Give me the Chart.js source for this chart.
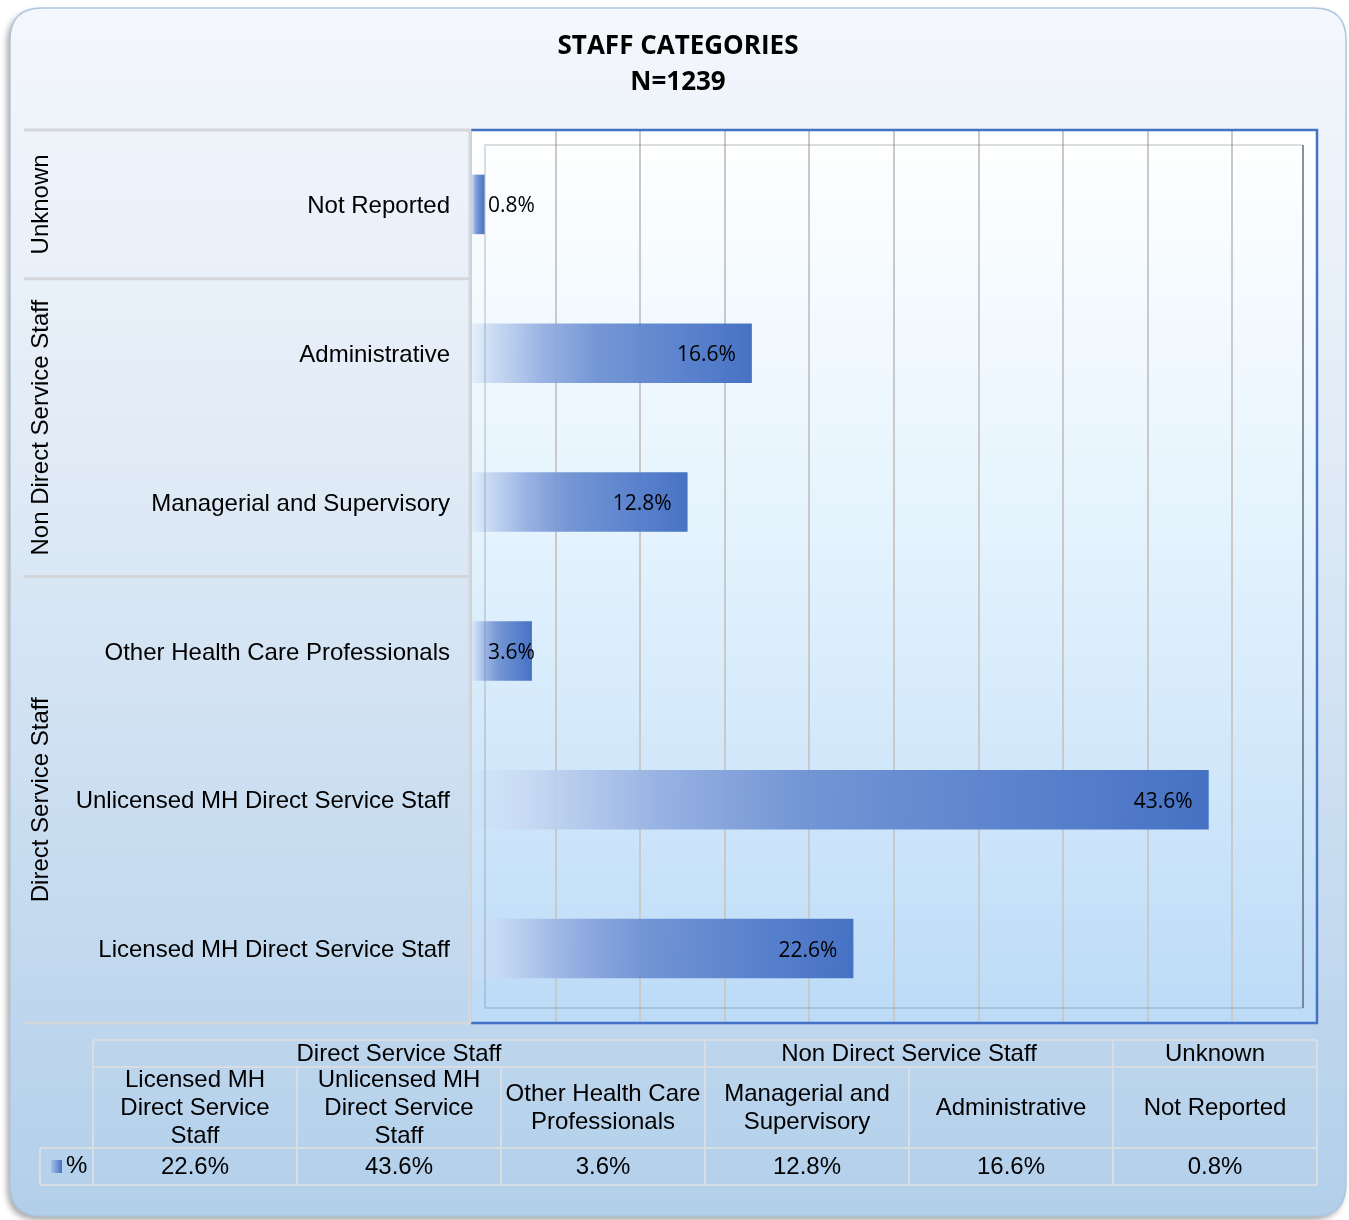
<!DOCTYPE html>
<html lang="en">
<head>
  <meta charset="UTF-8">
  <title>Staff Categories</title>
  <script src="https://cdn.jsdelivr.net/npm/chart.js"></script>
  <style>
    body {
      margin: 0;
      padding: 0;
      background: #ffffff;
    }
    #wrap {
      width: 1349px;
      height: 1220px;
    }
  </style>
</head>
<body>
  <div id="wrap">
    <canvas id="staffChart" width="1349" height="1220"></canvas>
  </div>

  <script>
    // data, in table order (left to right); the bars run bottom to top
    const categories = [
      'Licensed MH Direct Service Staff',
      'Unlicensed MH Direct Service Staff',
      'Other Health Care Professionals',
      'Managerial and Supervisory',
      'Administrative',
      'Not Reported'
    ];
    const tableHeaders = [
      ['Licensed MH', 'Direct Service', 'Staff'],
      ['Unlicensed MH', 'Direct Service', 'Staff'],
      ['Other Health Care', 'Professionals'],
      ['Managerial and', 'Supervisory'],
      ['Administrative'],
      ['Not Reported']
    ];
    const groups = ['Direct Service Staff', 'Non Direct Service Staff', 'Unknown'];
    const groupSizes = [3, 2, 1];
    const percents = [22.6, 43.6, 3.6, 12.8, 16.6, 0.8];
    const seriesName = '%';
    const xMax = 50;
    const xStep = 5;
    const titleLines = ['STAFF CATEGORIES', 'N=1239'];

    const LABEL_FONT = '24px "Liberation Sans", Arial, sans-serif';
    const BLUE = '#4472c4';

    function barGradient(c, x0, x1) {
      const g = c.createLinearGradient(x0, 0, x1, 0);
      g.addColorStop(0, 'rgba(205,224,246,0.35)');
      g.addColorStop(0.07, 'rgba(200,218,243,0.9)');
      g.addColorStop(0.25, 'rgba(150,176,226,0.95)');
      g.addColorStop(0.45, 'rgba(110,145,210,0.95)');
      g.addColorStop(0.7, 'rgba(88,128,204,0.95)');
      g.addColorStop(1, 'rgba(66,110,194,0.97)');
      return g;
    }

    function roundRect(c, x, y, w, h, r) {
      c.beginPath();
      c.moveTo(x + r, y);
      c.lineTo(x + w - r, y);
      c.quadraticCurveTo(x + w, y, x + w, y + r);
      c.lineTo(x + w, y + h - r);
      c.quadraticCurveTo(x + w, y + h, x + w - r, y + h);
      c.lineTo(x + r, y + h);
      c.quadraticCurveTo(x, y + h, x, y + h - r);
      c.lineTo(x, y + r);
      c.quadraticCurveTo(x, y, x + r, y);
      c.closePath();
    }

    // background frame, plot area fill, title
    const backdrop = {
      id: 'backdrop',
      beforeDraw(chart) {
        const c = chart.ctx;
        const a = chart.chartArea;
        c.save();
        // outer rounded frame with shadow
        c.shadowColor = 'rgba(0,0,0,0.35)';
        c.shadowBlur = 6;
        c.shadowOffsetX = -3;
        c.shadowOffsetY = 4;
        const bg = c.createLinearGradient(0, 8, 0, 1216);
        bg.addColorStop(0, '#f4f7fc');
        bg.addColorStop(0.35, '#e2ecf7');
        bg.addColorStop(1, '#b2cfea');
        c.fillStyle = bg;
        roundRect(c, 10, 8, 1336, 1208, 32);
        c.fill();
        c.shadowColor = 'transparent';
        c.strokeStyle = '#aec6e0';
        c.lineWidth = 1.5;
        c.stroke();

        // plot area
        const pg = c.createLinearGradient(0, a.top, 0, a.bottom);
        pg.addColorStop(0, '#ffffff');
        pg.addColorStop(0.45, '#e4f3fd');
        pg.addColorStop(1, '#bcdbf7');
        c.fillStyle = pg;
        c.fillRect(a.left, a.top, a.right - a.left, a.bottom - a.top);

        // title
        c.fillStyle = '#000';
        c.textAlign = 'center';
        c.textBaseline = 'middle';
        c.font = 'bold 26px "Open Sans", sans-serif';
        c.fillText(titleLines[0], 678, 47);
        c.fillText(titleLines[1], 678, 83);
        c.restore();
      },
      afterDraw(chart) {
        const c = chart.ctx;
        const a = chart.chartArea;
        const ys = chart.scales.y;
        c.save();

        // inner 3D frame of the plot
        c.lineWidth = 2;
        c.strokeStyle = 'rgba(110,120,135,0.25)';
        c.beginPath();
        c.moveTo(a.left + 14, a.bottom - 15);
        c.lineTo(a.left + 14, a.top + 15);
        c.lineTo(a.right - 14, a.top + 15);
        c.moveTo(a.left + 14, a.bottom - 15);
        c.lineTo(a.right - 14, a.bottom - 15);
        c.stroke();
        c.strokeStyle = 'rgba(90,100,115,0.7)';
        c.beginPath();
        c.moveTo(a.right - 14, a.top + 15);
        c.lineTo(a.right - 14, a.bottom - 15);
        c.stroke();

        // blue plot border (top, right, bottom)
        c.strokeStyle = BLUE;
        c.lineWidth = 2.5;
        c.beginPath();
        c.moveTo(a.left, a.top);
        c.lineTo(a.right, a.top);
        c.lineTo(a.right, a.bottom);
        c.lineTo(a.left, a.bottom);
        c.stroke();

        // label area separators
        const half = Math.abs(ys.getPixelForValue(1) - ys.getPixelForValue(0)) / 2;
        c.strokeStyle = '#d3d6da';
        c.lineWidth = 3;
        c.beginPath();
        c.moveTo(a.left - 1, a.top);
        c.lineTo(a.left - 1, a.bottom);
        c.stroke();
        let idx = 0;
        const bounds = [];
        groupSizes.forEach(n => {
          const bottom = ys.getPixelForValue(idx) + half;
          const top = ys.getPixelForValue(idx + n - 1) - half;
          bounds.push([top, bottom]);
          idx += n;
        });
        c.beginPath();
        bounds.forEach(([top, bottom]) => {
          c.moveTo(24, top);
          c.lineTo(a.left - 1, top);
          c.moveTo(24, bottom);
          c.lineTo(a.left - 1, bottom);
        });
        c.stroke();

        // category labels
        c.fillStyle = '#000';
        c.font = LABEL_FONT;
        c.textAlign = 'right';
        c.textBaseline = 'middle';
        categories.forEach((cat, i) => {
          c.fillText(cat, a.left - 21, ys.getPixelForValue(i) + 2);
        });

        // group labels, rotated
        c.textAlign = 'center';
        bounds.forEach(([top, bottom], g) => {
          c.save();
          c.translate(40, (top + bottom) / 2);
          c.rotate(-Math.PI / 2);
          c.fillText(groups[g], 0, 1);
          c.restore();
        });

        // data table
        const tL = 93, tR = 1317, legL = 40;
        const rows = [1040, 1067, 1148, 1185];
        const colW = (tR - tL) / categories.length;
        c.strokeStyle = '#d8dde3';
        c.lineWidth = 2;
        c.beginPath();
        c.moveTo(tL, rows[0]); c.lineTo(tR, rows[0]);
        c.moveTo(tL, rows[1]); c.lineTo(tR, rows[1]);
        c.moveTo(legL, rows[2]); c.lineTo(tR, rows[2]);
        c.moveTo(legL, rows[3]); c.lineTo(tR, rows[3]);
        c.moveTo(legL, rows[2]); c.lineTo(legL, rows[3]);
        c.moveTo(tL, rows[0]); c.lineTo(tL, rows[3]);
        c.moveTo(tR, rows[0]); c.lineTo(tR, rows[3]);
        let col = 0;
        groupSizes.forEach(n => {
          col += n;
          const x = tL + col * colW;
          c.moveTo(x, rows[0]); c.lineTo(x, rows[3]);
        });
        for (let i = 1; i < categories.length; i++) {
          const x = tL + i * colW;
          c.moveTo(x, rows[1]); c.lineTo(x, rows[3]);
        }
        c.stroke();

        c.fillStyle = '#000';
        c.font = LABEL_FONT;
        c.textAlign = 'center';
        c.textBaseline = 'middle';
        col = 0;
        groupSizes.forEach((n, g) => {
          const cx = tL + (col + n / 2) * colW;
          c.fillText(groups[g], cx, (rows[0] + rows[1]) / 2 + 1);
          col += n;
        });
        const lh = 28;
        tableHeaders.forEach((lines, i) => {
          const cx = tL + (i + 0.5) * colW;
          const cy = (rows[1] + rows[2]) / 2 + 1;
          lines.forEach((ln, k) => {
            c.fillText(ln, cx, cy + (k - (lines.length - 1) / 2) * lh);
          });
          c.fillText(percents[i].toFixed(1) + '%', cx, (rows[2] + rows[3]) / 2 + 1);
        });
        // legend key
        const kg = c.createLinearGradient(51, 0, 62, 0);
        kg.addColorStop(0, '#a9c0e8');
        kg.addColorStop(1, BLUE);
        c.fillStyle = kg;
        c.fillRect(51, 1160, 11, 13);
        c.fillStyle = '#000';
        c.textAlign = 'left';
        c.fillText(seriesName, 66, (rows[2] + rows[3]) / 2);
        c.restore();
      }
    };

    // value labels at bar ends
    const barLabels = {
      id: 'barLabels',
      afterDatasetsDraw(chart) {
        const c = chart.ctx;
        const meta = chart.getDatasetMeta(0);
        c.save();
        c.font = '21px "Open Sans", sans-serif';
        c.fillStyle = '#000';
        c.textAlign = 'left';
        c.textBaseline = 'middle';
        meta.data.forEach((bar, i) => {
          const txt = percents[i].toFixed(1) + '%';
          const w = c.measureText(txt).width;
          const x = Math.max(bar.x - 16 - w, bar.base + 16);
          c.fillText(txt, x, bar.y + 2);
        });
        c.restore();
      }
    };

    const ctx = document.getElementById('staffChart').getContext('2d');
    new Chart(ctx, {
      type: 'bar',
      data: {
        labels: categories,
        datasets: [{
          label: seriesName,
          data: percents,
          backgroundColor: (context) => {
            const chart = context.chart;
            if (!chart.chartArea || context.raw === undefined) return BLUE;
            const xs = chart.scales.x;
            const x0 = xs.getPixelForValue(0);
            const x1 = xs.getPixelForValue(context.raw);
            return barGradient(chart.ctx, x0, x1);
          },
          borderWidth: 0,
          barPercentage: 0.4,
          categoryPercentage: 1
        }]
      },
      options: {
        indexAxis: 'y',
        responsive: false,
        animation: false,
        layout: {
          padding: { left: 471, top: 130, right: 32, bottom: 197 }
        },
        plugins: {
          legend: { display: false },
          tooltip: { enabled: false },
          title: { display: false }
        },
        scales: {
          x: {
            min: 0,
            max: xMax,
            ticks: { display: false, stepSize: xStep },
            grid: { color: '#c9c9c9', lineWidth: 2, drawTicks: false },
            border: { display: false }
          },
          y: {
            reverse: true,
            ticks: { display: false },
            grid: { display: false, drawTicks: false },
            border: { display: false }
          }
        }
      },
      plugins: [backdrop, barLabels]
    });
  </script>
</body>
</html>
